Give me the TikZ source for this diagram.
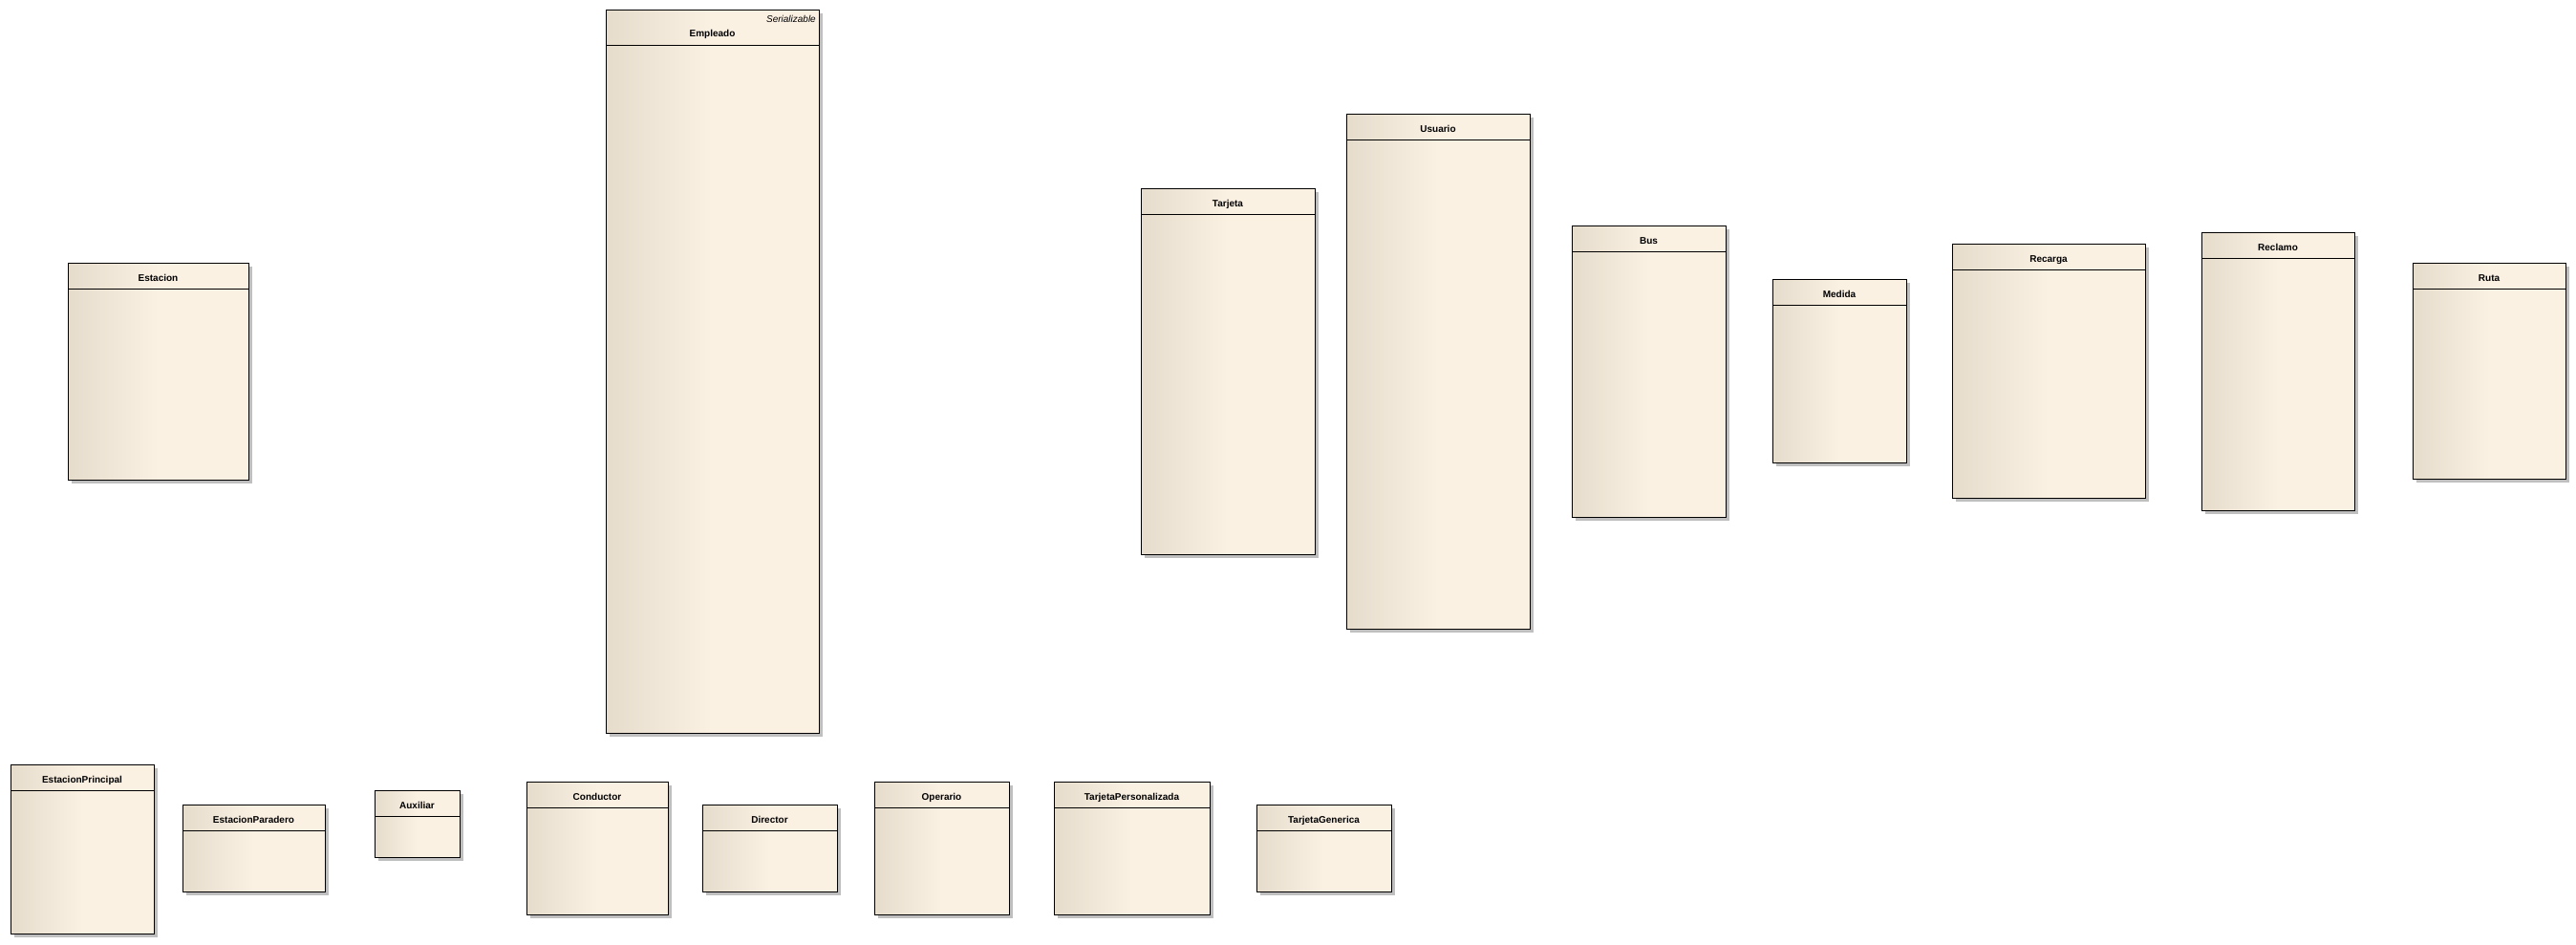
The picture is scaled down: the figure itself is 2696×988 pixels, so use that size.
\documentclass[tikz,border=0pt]{standalone}
\usepackage{fontspec}
\setmainfont{Liberation Sans}
\usetikzlibrary{shadows}

\definecolor{clsleft}{HTML}{E5DCCC}
\definecolor{clsright}{HTML}{FBF1E3}
\definecolor{clsshadow}{HTML}{BFBFBF}
\pgfdeclarehorizontalshading{clsfill}{100bp}{color(0bp)=(clsleft); color(25bp)=(clsleft); color(50bp)=(clsright); color(100bp)=(clsright)}

\tikzset{
  classbox/.style={draw=black, line width=1pt, shade, shading=clsfill, anchor=north west,
    inner sep=0pt, outer sep=0pt,
    drop shadow={shadow xshift=4pt, shadow yshift=-4pt, fill=clsshadow, opacity=1}},
  classline/.style={draw=black, line width=1pt},
  classname/.style={font=\fontsize{10}{12}\selectfont\bfseries, anchor=base, inner sep=0pt},
  stereo/.style={font=\fontsize{10}{12}\selectfont\itshape, anchor=base east, inner sep=0pt}
}

\begin{document}
\begin{tikzpicture}[x=1pt, y=-1pt]
  \useasboundingbox (0,0) rectangle (2696,988);

  % abstract parent with stereotype
  \node[classbox, minimum width=223pt, minimum height=757pt] (empleado) at (634,10) {};
  \draw[classline] ([yshift=-37pt]empleado.north west) -- ([yshift=-37pt]empleado.north east);
  \node[stereo] (empleado-stereo) at ([xshift=-3pt, yshift=-13pt]empleado.north east) {Serializable};
  \node[classname] (empleado-name) at ([yshift=-28.5pt]empleado.north) {Empleado};

  % plain classes: name/left/top/width/height/label
  \foreach \cls/\px/\py/\bw/\bh/\lbl in {
      estacion/71/275/189/227/Estacion,
      tarjeta/1194/197/182/383/Tarjeta,
      usuario/1409/119/192/539/Usuario,
      bus/1645/236/161/305/Bus,
      medida/1855/292/140/192/Medida,
      recarga/2043/255/202/266/Recarga,
      reclamo/2304/243/160/291/Reclamo,
      ruta/2525/275/160/226/Ruta,
      estprincipal/11/800/150/177/EstacionPrincipal,
      estparadero/191/842/149/91/EstacionParadero,
      auxiliar/392/827/89/70/Auxiliar,
      conductor/551/818/148/139/Conductor,
      director/735/842/141/91/Director,
      operario/915/818/141/139/Operario,
      tarjpers/1103/818/163/139/TarjetaPersonalizada,
      tarjgen/1315/842/141/91/TarjetaGenerica} {
    \node[classbox, minimum width=\bw pt, minimum height=\bh pt] (\cls) at (\px,\py) {};
    \draw[classline] ([yshift=-27pt]\cls.north west) -- ([yshift=-27pt]\cls.north east);
    \node[classname] (\cls-name) at ([yshift=-19pt]\cls.north) {\lbl};
  }
\end{tikzpicture}
\end{document}
